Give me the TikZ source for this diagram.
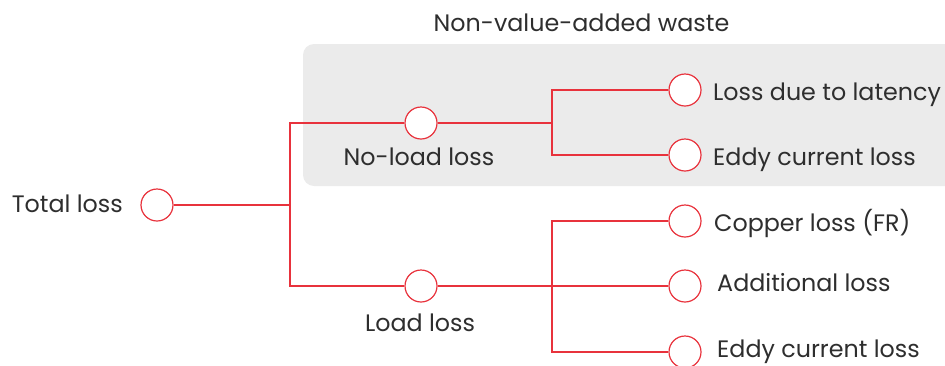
\documentclass[tikz,border=0pt]{standalone}
\usepackage{fontspec}
\setmainfont{Poppins}
\definecolor{linered}{HTML}{E8323C}
\definecolor{boxgray}{HTML}{EBEBEB}
\definecolor{txt}{HTML}{2E2E2E}
\tikzset{
  dot/.style={circle, draw=linered, fill=white, line width=1.2pt, minimum size=32pt, inner sep=0pt},
  conn/.style={draw=linered, line width=1.2pt},
  lbl/.style={text=txt, font=\fontsize{23.8}{27}\selectfont, inner sep=0pt},
}
\begin{document}
\begin{tikzpicture}[x=1pt,y=-1pt]
\useasboundingbox (0,0) rectangle (945,365);
\fill[boxgray, rounded corners=11pt] (303,44) rectangle (965,186);
\node[lbl, anchor=base] (waste) at (581.5,31.7) {Non-value-added waste};
% nodes
\node[dot] (total) at (157,205) {};
\node[dot] (noload) at (421,123) {};
\node[dot] (load) at (421,286) {};
\node[dot] (lat) at (685,90) {};
\node[dot] (eddy1) at (685,155) {};
\node[dot] (cu) at (685,221) {};
\node[dot] (add) at (685,286) {};
\node[dot] (eddy2) at (685,352) {};
\coordinate (j0) at (290,205);
\coordinate (j1) at (552,123);
\coordinate (j2) at (552,286);
% connectors
\draw[conn] (total.east) -- (j0);
\draw[conn] (noload.west) -| (j0) |- (load.west);
\draw[conn] (noload.east) -- (j1);
\draw[conn] (lat.west) -| (j1) |- (eddy1.west);
\draw[conn] (load.east) -- (add.west);
\draw[conn] (cu.west) -| (j2) |- (eddy2.west);
% labels
\node[lbl, anchor=base east] (ltotal) at (123,212) {Total loss};
\node[lbl, anchor=base] (lnoload) at (419,165) {No-load loss};
\node[lbl, anchor=base] (lload) at (420,331) {Load loss};
\node[lbl, anchor=base west] (llat) at (713,100) {Loss due to latency};
\node[lbl, anchor=base west] (leddy1) at (713,165.7) {Eddy current loss};
\node[lbl, anchor=base west] (lcu) at (714,231.7) {Copper loss (FR)};
\node[lbl, anchor=base west] (ladd) at (717,291.7) {Additional loss};
\node[lbl, anchor=base west] (leddy2) at (717,357) {Eddy current loss};
\end{tikzpicture}
\end{document}
